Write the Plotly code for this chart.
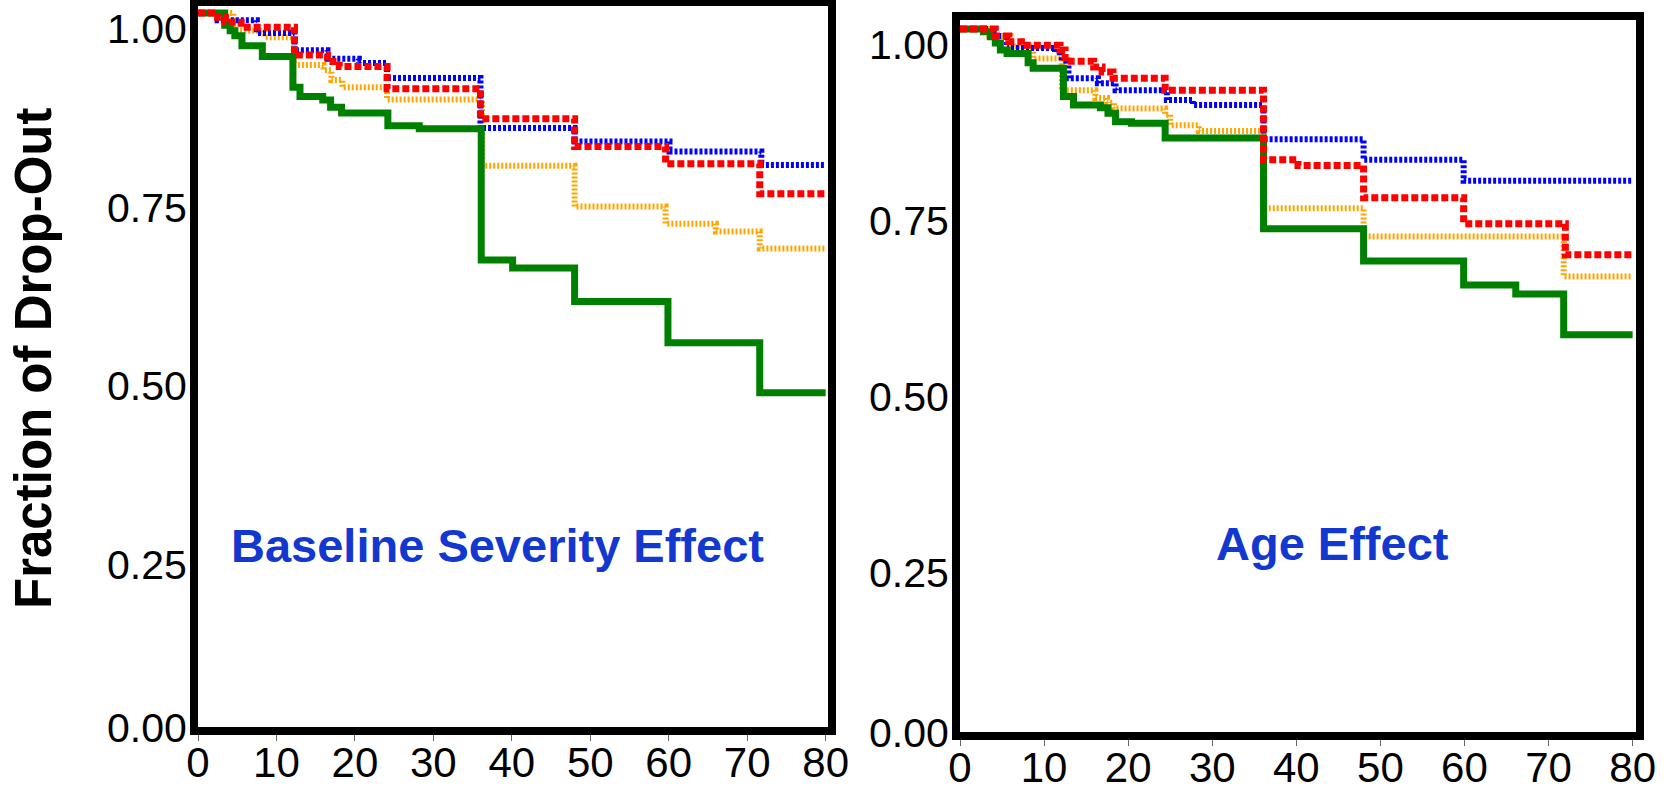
import plotly.graph_objects as go

# ---------------- data (time, fraction remaining) ----------------
# Left panel: Baseline Severity Effect
bs_green_x = [0, 3.4, 4.1, 4.7, 5.6, 8.2, 12.1, 13.0, 15.9, 16.9, 18.3, 24.2, 28.2, 36.1, 40.1, 48.0, 59.9, 71.6, 80]
bs_green_y = [1.0, 0.983, 0.975, 0.968, 0.954, 0.939, 0.896, 0.883, 0.878, 0.868, 0.860, 0.842, 0.838, 0.654, 0.643, 0.596, 0.538, 0.468, 0.468]

bs_red_x = [0, 2.5, 3.5, 5.5, 12.3, 16.5, 18.0, 24.1, 36.0, 48.0, 59.6, 71.6, 80]
bs_red_y = [1.0, 0.994, 0.987, 0.980, 0.941, 0.932, 0.925, 0.894, 0.852, 0.813, 0.789, 0.747, 0.747]

bs_blue_x = [0, 2.5, 7.5, 12.3, 16.5, 20.5, 24.1, 36.0, 48.0, 60.1, 71.8, 80]
bs_blue_y = [1.0, 0.990, 0.972, 0.948, 0.936, 0.930, 0.909, 0.839, 0.820, 0.806, 0.787, 0.787]

bs_orange_x = [0, 4.5, 8.5, 12.2, 16.0, 17.0, 18.4, 24.1, 36.2, 48.0, 59.6, 66.0, 71.6, 80]
bs_orange_y = [1.0, 0.975, 0.966, 0.927, 0.920, 0.906, 0.896, 0.879, 0.786, 0.729, 0.705, 0.694, 0.670, 0.670]

# Right panel: Age Effect
age_green_x = [0, 2.8, 3.6, 4.2, 4.8, 5.6, 8.1, 8.7, 12.3, 13.5, 16.7, 17.6, 18.5, 20.4, 24.4, 36.1, 48.0, 59.9, 66.1, 71.8, 80]
age_green_y = [1.0, 0.996, 0.989, 0.980, 0.970, 0.965, 0.952, 0.944, 0.904, 0.892, 0.888, 0.880, 0.868, 0.866, 0.845, 0.716, 0.670, 0.636, 0.623, 0.565, 0.565]

age_red_x = [0, 4.2, 5.8, 7.3, 11.9, 12.5, 15.9, 16.9, 18.2, 24.4, 36.1, 40.2, 48.0, 59.9, 72.0, 80]
age_red_y = [1.0, 0.990, 0.982, 0.977, 0.970, 0.954, 0.946, 0.939, 0.930, 0.913, 0.814, 0.806, 0.760, 0.723, 0.679, 0.679]

age_blue_x = [0, 4.0, 5.6, 11.3, 12.1, 12.9, 16.4, 18.5, 24.6, 27.7, 36.1, 48.0, 59.9, 80]
age_blue_y = [1.0, 0.990, 0.973, 0.967, 0.955, 0.930, 0.923, 0.913, 0.899, 0.892, 0.843, 0.814, 0.784, 0.784]

age_orange_x = [0, 3.5, 6.0, 8.7, 12.1, 16.1, 17.5, 18.3, 24.4, 25.0, 28.4, 36.1, 48.0, 71.8, 80]
age_orange_y = [1.0, 0.990, 0.975, 0.958, 0.913, 0.902, 0.895, 0.887, 0.878, 0.863, 0.855, 0.745, 0.705, 0.648, 0.648]

x_ticks = [0, 10, 20, 30, 40, 50, 60, 70, 80]
y_ticks_upper = [0.25, 0.5, 0.75, 1.0]
y_ticktext_upper = ["0.25", "0.50", "0.75", "1.00"]
y_ticks_zero = [0]
y_ticktext_zero = ["0.00"]

panel_titles = ["Baseline Severity Effect", "Age Effect"]
y_title = "Fraction of Drop-Out"

# ---------------- styles ----------------
FONT = "Liberation Sans, Arial, sans-serif"
styles = {
    "orange": dict(color="#FFA500", width=6, dash="2px,2px"),
    "blue": dict(color="#0000FF", width=6, dash="3px,2px"),
    "green": dict(color="#008000", width=7, dash="solid"),
    "red": dict(color="#FF0000", width=7, dash="7px,3px"),
}

fig = go.Figure()

panels = [
    ("x", "y", {"orange": (bs_orange_x, bs_orange_y), "blue": (bs_blue_x, bs_blue_y),
                "green": (bs_green_x, bs_green_y), "red": (bs_red_x, bs_red_y)}),
    ("x2", "y2", {"orange": (age_orange_x, age_orange_y), "blue": (age_blue_x, age_blue_y),
                  "green": (age_green_x, age_green_y), "red": (age_red_x, age_red_y)}),
]
for xa, ya, series in panels:
    for name in ["orange", "blue", "green", "red"]:
        xs, ys = series[name]
        fig.add_trace(go.Scatter(x=xs, y=ys, mode="lines", line_shape="hv",
                                 line=styles[name], xaxis=xa, yaxis=ya,
                                 showlegend=False, hoverinfo="skip"))

# empty traces so the overlaid "0.00" label axes are drawn
for xa, ya in [("x", "y3"), ("x2", "y4")]:
    fig.add_trace(go.Scatter(x=[], y=[], mode="lines", xaxis=xa, yaxis=ya,
                             showlegend=False, hoverinfo="skip"))

W, H = 1675, 791

def xaxis_cfg(left, right, rng, anchor):
    return dict(domain=[left / W, right / W], range=rng, tickvals=x_ticks, anchor=anchor,
                automargin=False,
                ticks="outside", ticklen=6, tickwidth=1, tickcolor="#666",
                ticklabelstandoff=-14,
                showline=True, mirror=True, linewidth=8, linecolor="black",
                showgrid=False, zeroline=False,
                tickfont=dict(family=FONT, size=42, color="black"))

def yaxis_cfg(top, bottom, rng, anchor, vals, texts, shift, mirror=True, overlay=None):
    cfg = dict(domain=[1 - bottom / H, 1 - top / H], range=rng, anchor=anchor,
               automargin=False,
               tickvals=vals, ticktext=texts, ticks="",
               ticklabelshift=shift, ticklabelstandoff=-5, ticklabeloverflow="allow",
               showline=True, mirror=mirror, linewidth=8, linecolor="black",
               showgrid=False, zeroline=False,
               tickfont=dict(family=FONT, size=41, color="black"))
    if overlay:
        cfg["overlaying"] = overlay
        cfg["side"] = "left"
    return cfg

fig.update_layout(
    width=W, height=H,
    margin=dict(l=0, r=0, t=0, b=0, pad=0, autoexpand=False),
    paper_bgcolor="white", plot_bgcolor="white",
    xaxis=xaxis_cfg(198, 828, [0, 80.3], "y"),
    yaxis=yaxis_cfg(6, 727, [0, 1.0098], "x", y_ticks_upper, y_ticktext_upper, 16),
    xaxis2=xaxis_cfg(960, 1636, [0, 80.4], "y2"),
    yaxis2=yaxis_cfg(20, 732, [0, 1.0128], "x2", y_ticks_upper, y_ticktext_upper, 16),
    yaxis3=yaxis_cfg(6, 727, [0, 1.0098], "x", y_ticks_zero, y_ticktext_zero, 1,
                     mirror=False, overlay="y"),
    yaxis4=yaxis_cfg(20, 732, [0, 1.0128], "x2", y_ticks_zero, y_ticktext_zero, 1,
                     mirror=False, overlay="y2"),
)

TITLE_BLUE = "#1238D0"
fig.add_annotation(text=f"<b>{panel_titles[0]}</b>", x=497 / W, y=1 - 545 / H,
                   xref="paper", yref="paper", showarrow=False,
                   xanchor="center", yanchor="middle",
                   font=dict(family=FONT, size=47, color=TITLE_BLUE))
fig.add_annotation(text=f"<b>{panel_titles[1]}</b>", x=1332 / W, y=1 - 543 / H,
                   xref="paper", yref="paper", showarrow=False,
                   xanchor="center", yanchor="middle",
                   font=dict(family=FONT, size=47, color=TITLE_BLUE))
fig.add_annotation(text=f"<b>{y_title}</b>", x=33 / W, y=1 - 359 / H,
                   xref="paper", yref="paper", showarrow=False, textangle=-90,
                   xanchor="center", yanchor="middle",
                   font=dict(family=FONT, size=51, color="black"))

fig.write_html("out.html")
